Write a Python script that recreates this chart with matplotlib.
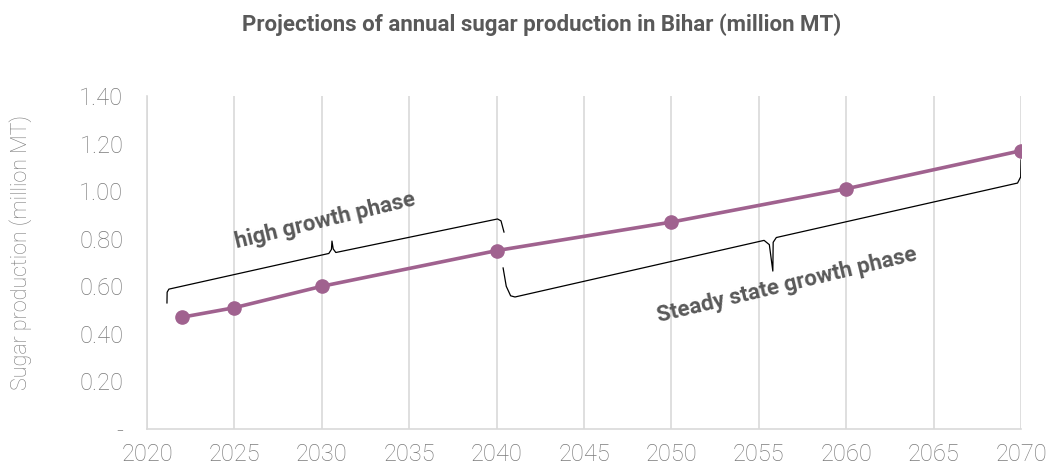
import numpy as np
import matplotlib
matplotlib.use("Agg")
import matplotlib.pyplot as plt
from matplotlib.ticker import FuncFormatter

plt.rcParams.update({"font.family": ["Roboto", "DejaVu Sans"]})

# ---- data ----
years = [2022, 2025, 2030, 2040, 2050, 2060, 2070]
production = [0.47, 0.51, 0.60, 0.75, 0.87, 1.01, 1.17]
xticks = list(range(2020, 2071, 5))
yticks = [0.0, 0.2, 0.4, 0.6, 0.8, 1.0, 1.2, 1.4]

LINE = "#A0628F"
INK = "#595959"
TICK = "#7A7A7A"
GRID = "#D9D9D9"

fig = plt.figure(figsize=(10.51, 4.66), dpi=100)
ax = fig.add_axes([0.1399, 0.0794, 0.8316, 0.7146])

ax.plot(years, production, color=LINE, lw=2.6, marker="o", ms=9.5, zorder=4)

ax.set_xlim(2020, 2070)
ax.set_ylim(0, 1.4)
ax.set_xticks(xticks)
ax.set_yticks(yticks)
ax.yaxis.set_major_formatter(FuncFormatter(lambda v, _: "-" if v == 0 else f"{v:.2f}"))
ax.grid(axis="x", color=GRID, lw=1.2)
ax.set_axisbelow(True)
for s in ("top", "right"):
    ax.spines[s].set_visible(False)
for s in ("left", "bottom"):
    ax.spines[s].set_color(GRID)
    ax.spines[s].set_linewidth(1.2)
ax.tick_params(length=0, labelsize=17, labelcolor=TICK)
ax.tick_params(axis="x", pad=10)
ax.tick_params(axis="y", pad=17)
for lab in ax.get_xticklabels() + ax.get_yticklabels():
    lab.set_fontweight("light")
ax.set_ylabel("Sugar production (million MT)", fontsize=15.5, color=TICK,
              fontweight="light")
ax.yaxis.set_label_coords(-0.132, 0.53)

fig.text(0.515, 0.946, "Projections of annual sugar production in Bihar (million MT)",
         ha="center", va="center", fontsize=16, fontweight="bold", color=INK)


def brace(ax, pts):
    """Polyline brace through data points, smoothed a little at the hooks."""
    xs, ys = zip(*pts)
    ax.plot(xs, ys, color="black", lw=0.9, zorder=3, solid_joinstyle="round")


# high growth phase bracket (above the line)
brace(ax, [(2021.14, 0.53), (2021.15, 0.575), (2021.25, 0.588),
           (2030.40, 0.738), (2030.55, 0.755), (2030.58, 0.790),
           (2030.65, 0.757), (2030.80, 0.742),
           (2040.05, 0.883), (2040.25, 0.875), (2040.42, 0.828)])
ax.text(2030.2, 0.875, "high growth phase", rotation=13.5, ha="center", va="center",
        fontsize=16, fontweight="bold", color=INK, rotation_mode="anchor")

# steady state growth phase bracket (below the line)
brace(ax, [(2040.37, 0.677), (2040.55, 0.60), (2040.8, 0.56), (2041.05, 0.555),
           (2055.30, 0.793), (2055.60, 0.775), (2055.80, 0.664),
           (2055.82, 0.785), (2056.00, 0.805),
           (2069.80, 1.034), (2069.98, 1.06), (2070.00, 1.131)])
ax.text(2056.6, 0.605, "Steady state growth phase", rotation=13.5, ha="center", va="center",
        fontsize=16, fontweight="bold", color=INK, rotation_mode="anchor")

fig.savefig("out.png", dpi=100)
